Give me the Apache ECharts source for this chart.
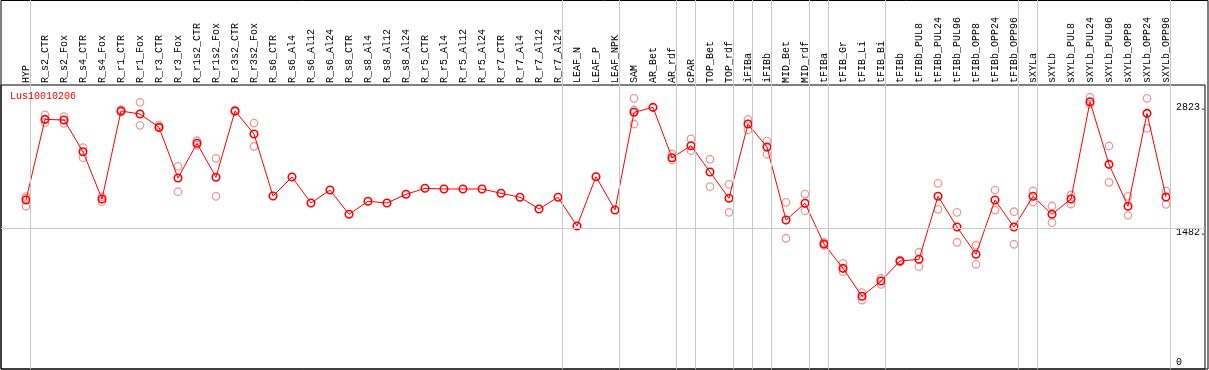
<!DOCTYPE html>
<html>
<head>
<meta charset="utf-8">
<script src="https://cdn.jsdelivr.net/npm/echarts@6/dist/echarts.min.js"></script>
<style>html,body{margin:0;padding:0;background:#fff}#c{width:1209px;height:370px}</style>
</head>
<body>
<div id="c"></div>
<script>
const chartTitle = 'Lus10010206';
const categories = ['HYP','R_s2_CTR','R_s2_Fox','R_s4_CTR','R_s4_Fox','R_r1_CTR','R_r1_Fox','R_r3_CTR','R_r3_Fox','R_r1s2_CTR','R_r1s2_Fox','R_r3s2_CTR','R_r3s2_Fox','R_s6_CTR','R_s6_Al4','R_s6_Al12','R_s6_Al24','R_s8_CTR','R_s8_Al4','R_s8_Al12','R_s8_Al24','R_r5_CTR','R_r5_Al4','R_r5_Al12','R_r5_Al24','R_r7_CTR','R_r7_Al4','R_r7_Al12','R_r7_Al24','LEAF_N','LEAF_P','LEAF_NPK','SAM','AR_Bet','AR_rdf','cPAR','TOP_Bet','TOP_rdf','iFIBa','iFIBb','MID_Bet','MID_rdf','tFIBa','tFIB_Gr','tFIB_Li','tFIB_Bi','tFIBb','tFIBb_PUL8','tFIBb_PUL24','tFIBb_PUL96','tFIBb_OPP8','tFIBb_OPP24','tFIBb_OPP96','sXYLa','sXYLb','sXYLb_PUL8','sXYLb_PUL24','sXYLb_PUL96','sXYLb_OPP8','sXYLb_OPP24','sXYLb_OPP96'];
const meanValues = [1776,2624,2617,2284,1787,2712,2680,2540,2007,2372,2015,2712,2470,1818,2018,1745,1881,1626,1763,1745,1836,1899,1892,1892,1892,1847,1805,1682,1805,1503,2021,1671,2698,2750,2221,2347,2070,1794,2575,2333,1566,1742,1314,1058,764,925,1135,1153,1815,1492,1206,1776,1492,1815,1626,1787,2809,2151,1710,2687,1808];
const replicates = [
 [1811,1713,1797],[2670,2589],[2652,2582],[2326,2221],[1811,1758],[2725,2700],[2803,2561],[2564,2533],[2130,1863],[2399,2354],[2214,1815],[2720,2705],[2585,2341],
 [],[],[],[],[],[],[],[],[],[],[],[],[],[],[],[],[],[],[],
 [2845,2722,2575],[],[2260,2197],[2418,2294],[2204,1916],[1941,1647],[2624,2512],[2396,2257],[1752,1374],[1839,1661],
 [1330,1298],[1111,1023],[802,725],[953,890],[1145,1125],[1227,1075],[1952,1678],[1647,1332],[1303,1100],[1881,1671],[1653,1311],
 [1871,1755],[1713,1538],[1829,1734],[2856,2785],[2344,1962],[1815,1615],[2845,2530],[1871,1731]
];
const yTickValues = [0, 1482, 2823];
const yTickLabels = ['0', '1482.', '2823.'];
const groupEnds = [-1, 0, 28, 31, 34, 35, 37, 38, 39, 41, 42, 45, 52, 53, 60];
const yMax = 2985;

const mono = 'Liberation Mono';

const repData = [];
replicates.forEach((arr, i) => arr.forEach(v => repData.push([i, v])));
const meanData = meanValues.map((v, i) => [i, v]);
const richKeys = ['z', 'm', 't'];

const chart = echarts.init(document.getElementById('c'), null, {renderer: 'canvas'});
chart.setOption({
  animation: false,
  backgroundColor: '#ffffff',
  title: {text: chartTitle, left: 10, top: 91, padding: 0,
    textStyle: {color: '#ff0000', fontSize: 10, fontWeight: 'normal', fontFamily: mono}},
  grid: [
    {left: 16.5, width: 1159, top: 85, height: 284, show: false},
    {left: 1, width: 1207, top: 85, height: 284, show: true, borderColor: '#000', borderWidth: 1, backgroundColor: 'transparent'},
    {left: 16.5, width: 1159, top: 0, height: 369, show: false},
    {left: 1, width: 1207, top: 0.5, height: 368.5, show: true, borderColor: '#000', borderWidth: 1, backgroundColor: 'transparent'}
  ],
  xAxis: [
    {type: 'category', gridIndex: 0, position: 'top', data: categories, boundaryGap: true,
      axisLine: {show: false}, axisTick: {show: false}, splitLine: {show: false},
      axisLabel: {rotate: 90, interval: 0, margin: 2, fontFamily: mono, fontSize: 10, color: '#000'}},
    {type: 'value', gridIndex: 1, min: 0, max: 1, show: false},
    {type: 'value', gridIndex: 2, min: -0.5, max: 60.5, show: false},
    {type: 'value', gridIndex: 3, min: 0, max: 1, show: false}
  ],
  yAxis: [
    {type: 'value', gridIndex: 0, min: 0, max: yMax, show: false},
    {type: 'value', gridIndex: 1, min: 0, max: yMax, position: 'right',
      axisLine: {show: false}, axisTick: {show: false}, splitLine: {show: false},
      axisLabel: {inside: true, margin: 29, align: 'left', customValues: yTickValues,
        fontFamily: mono, fontSize: 10, color: '#000',
        formatter: function (v) {
          const k = yTickValues.indexOf(v);
          return k < 0 ? '' : '{' + richKeys[k] + '|' + yTickLabels[k] + '}';
        },
        rich: {
          z: {fontFamily: mono, fontSize: 10, color: '#000', padding: [0, 0, 14, 0]},
          m: {fontFamily: mono, fontSize: 10, color: '#000', padding: [9, 0, 0, 0]},
          t: {fontFamily: mono, fontSize: 10, color: '#000', padding: [14, 0, 0, 0]}
        }}},
    {type: 'value', gridIndex: 2, min: 0, max: 1, show: false},
    {type: 'value', gridIndex: 3, min: 0, max: 1, show: false}
  ],
  series: [
    {type: 'line', xAxisIndex: 2, yAxisIndex: 2, data: [], z: 1, silent: true,
      markLine: {silent: true, symbol: 'none', label: {show: false},
        lineStyle: {color: '#c8c8c8', width: 1, type: 'solid'},
        data: groupEnds.map(g => ({xAxis: g + 0.24}))}},
    {type: 'line', xAxisIndex: 1, yAxisIndex: 1, data: [], z: 1, silent: true,
      markLine: {silent: true, symbol: 'none', label: {show: false},
        lineStyle: {color: '#c8c8c8', width: 1, type: 'solid'},
        data: [{yAxis: yTickValues[1]}]}},
    {type: 'scatter', xAxisIndex: 0, yAxisIndex: 0, data: repData, z: 3, silent: true,
      symbol: 'circle', symbolSize: 7.5,
      itemStyle: {color: 'rgba(0,0,0,0)', borderColor: '#ee9a9a', borderWidth: 1.3, opacity: 1}},
    {type: 'line', xAxisIndex: 0, yAxisIndex: 0, data: meanData, z: 4, silent: true,
      symbol: 'circle', symbolSize: 7.5, showAllSymbol: true,
      lineStyle: {color: '#ff0000', width: 1},
      itemStyle: {color: 'rgba(255,255,255,0)', borderColor: '#ff0000', borderWidth: 1.6}}
  ]
});
</script>
</body>
</html>
